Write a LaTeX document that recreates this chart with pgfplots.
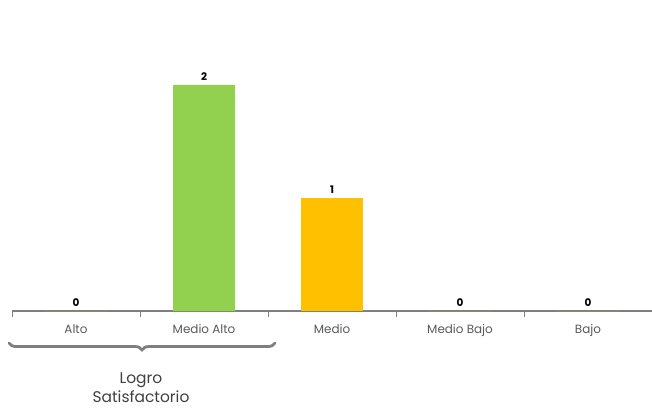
\documentclass[border=0pt]{standalone}
\usepackage{pgfplots}
\pgfplotsset{compat=1.18}
\usepackage{fontspec}
\setmainfont{Poppins}
\usetikzlibrary{decorations.pathreplacing}
\definecolor{bargreen}{HTML}{92D050}
\definecolor{barorange}{HTML}{FFC000}
\definecolor{axisgray}{HTML}{7F7F7F}
\definecolor{labgray}{HTML}{595959}
\begin{document}
\begin{tikzpicture}[x=1bp,y=1bp]
\useasboundingbox (0,0) rectangle (652,408);
\begin{axis}[
  at={(12bp,97bp)}, anchor=south west,
  scale only axis, width=640bp, height=294bp,
  xmin=-0.5, xmax=4.5, ymin=0, ymax=2.6,
  axis x line=bottom, axis y line=none,
  axis line style={axisgray, line width=1.2pt, -},
  xtick={0,1,2,3,4},
  xticklabels={Alto,Medio Alto,Medio,Medio Bajo,Bajo},
  major tick length=0pt,
  minor xtick={-0.5,0.5,1.5,2.5,3.5,4.5},
  minor tick length=6bp,
  xtick pos=bottom,
  tick align=outside,
  minor tick style={axisgray, line width=1pt},
  xticklabel style={font=\fontsize{12}{14}\selectfont, text=labgray, yshift=-10bp},
  /pgf/number format/assume math mode=true,
  ybar, bar width=62bp, bar shift=0pt,
  nodes near coords,
  every node near coord/.append style={font=\bfseries\fontsize{10.5}{12}\selectfont, text=black, yshift=0.5bp},
  clip=false,
]
\addplot[fill=bargreen, draw=none] coordinates {(0,0) (1,2) (3,0) (4,0)};
\addplot[fill=barorange, draw=none] coordinates {(2,1)};
\end{axis}
\draw[axisgray, line width=2.8bp, line cap=round, decorate, decoration={brace, mirror, amplitude=7bp, aspect=0.5}] (9,65) -- (275,65);
\node[align=center, text=black!75, font=\fontsize{15.5}{19}\selectfont] at (141,20) {Logro\\Satisfactorio};
\node[anchor=base, text=labgray, font=\fontsize{11}{13}\selectfont] at (320,410) {(Total del grupo)};
\end{tikzpicture}
\end{document}
